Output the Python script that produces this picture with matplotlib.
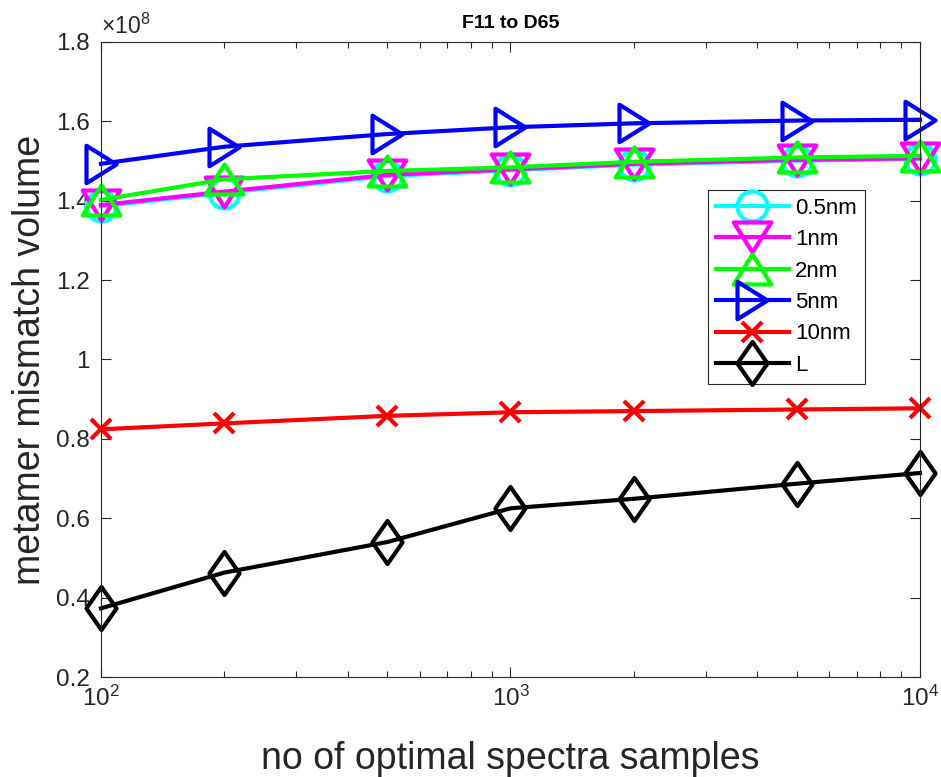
import numpy as np
import matplotlib
matplotlib.use("Agg")
import matplotlib.pyplot as plt
from matplotlib.ticker import FuncFormatter, LogLocator
from matplotlib.path import Path

plt.rcParams['font.family'] = ['Liberation Sans', 'DejaVu Sans']
plt.rcParams['mathtext.fontset'] = 'custom'
plt.rcParams['mathtext.rm'] = 'Liberation Sans'
plt.rcParams['mathtext.it'] = 'Liberation Sans'

samples = [100, 200, 500, 1000, 2000, 5000, 10000]
s05 = [1.386, 1.420, 1.462, 1.477, 1.491, 1.501, 1.505]
s1 = [1.389, 1.423, 1.465, 1.479, 1.493, 1.503, 1.507]
s2 = [1.402, 1.454, 1.475, 1.484, 1.498, 1.509, 1.513]
s5 = [1.493, 1.536, 1.568, 1.585, 1.595, 1.602, 1.604]
s10 = [0.824, 0.839, 0.858, 0.867, 0.870, 0.874, 0.877]
sL = [0.373, 0.463, 0.540, 0.625, 0.649, 0.687, 0.714]
labels = ['0.5nm', '1nm', '2nm', '5nm', '10nm', 'L']
scale = 1e8


def poly(verts):
    v = list(verts) + [verts[0]]
    codes = [Path.MOVETO] + [Path.LINETO] * (len(verts) - 1) + [Path.CLOSEPOLY]
    return Path(v, codes)


tri_up = poly([(-1, -0.8), (1, -0.8), (0, 0.8)])
tri_down = poly([(-1, 0.8), (1, 0.8), (0, -0.8)])
tri_right = poly([(-0.8, -1), (-0.8, 1), (0.8, 0)])
diamond = poly([(0, 1), (0.7, 0), (0, -1), (-0.7, 0)])

fig = plt.figure(figsize=(9.41, 7.77), dpi=100)
ax = fig.add_axes([0.1073, 0.1287, 0.8704, 0.8173])

styles = [
    (s05, 'o', 21.5, (0, 1, 1)),
    (s1, tri_down, 27, (1, 0, 1)),
    (s2, tri_up, 27, (0, 1, 0)),
    (s5, tri_right, 27, (0, 0, 1)),
    (s10, 'x', 14, (1, 0, 0)),
    (sL, diamond, 31, (0, 0, 0)),
]
for (vals, m, ms, c), lab in zip(styles, labels):
    ax.plot(samples, np.array(vals) * scale, marker=m, color=c, lw=3,
            ms=ms, mew=3, mfc='none', label=lab, clip_on=False)

ax.set_xscale('log')
ax.set_xlim(100, 10000)
ax.set_ylim(0.2e8, 1.8e8)
ax.set_yticks(np.arange(0.2, 1.81, 0.2) * scale)
ax.yaxis.set_major_formatter(FuncFormatter(lambda v, p: ('%g' % round(v / scale, 2))))
ax.xaxis.set_major_locator(LogLocator(base=10))
ax.xaxis.set_minor_locator(LogLocator(base=10, subs=np.arange(2, 10)))
ax.tick_params(which='both', direction='in', top=True, right=True, colors='#262626',
               labelcolor='#262626', labelsize=17.5, width=0.8)
ax.tick_params(which='major', length=7)
ax.tick_params(which='minor', length=4)
ax.tick_params(axis='y', pad=8)
ax.tick_params(axis='x', pad=6)
for sp in ax.spines.values():
    sp.set_color('#262626')
    sp.set_linewidth(0.8)

ax.text(0.0, 1.005, r'$\times 10^{8}$', transform=ax.transAxes, fontsize=16.5,
        color='#262626', ha='left', va='bottom')
ax.set_title('F11 to D65', fontsize=14, fontweight='bold', pad=10)
ax.set_xlabel('no of optimal spectra samples', fontsize=27, color='#262626', labelpad=22)
ax.set_ylabel('metamer mismatch volume', fontsize=27, color='#262626', labelpad=6)

leg = ax.legend(loc='upper left', bbox_to_anchor=(0.741, 0.767), fontsize=16,
                handlelength=3.3, handletextpad=0.27, labelspacing=0.47,
                borderpad=0.35, borderaxespad=0, fancybox=False, framealpha=1,
                edgecolor='#262626')
leg.get_frame().set_linewidth(0.8)

fig.savefig('out.png', dpi=100)
